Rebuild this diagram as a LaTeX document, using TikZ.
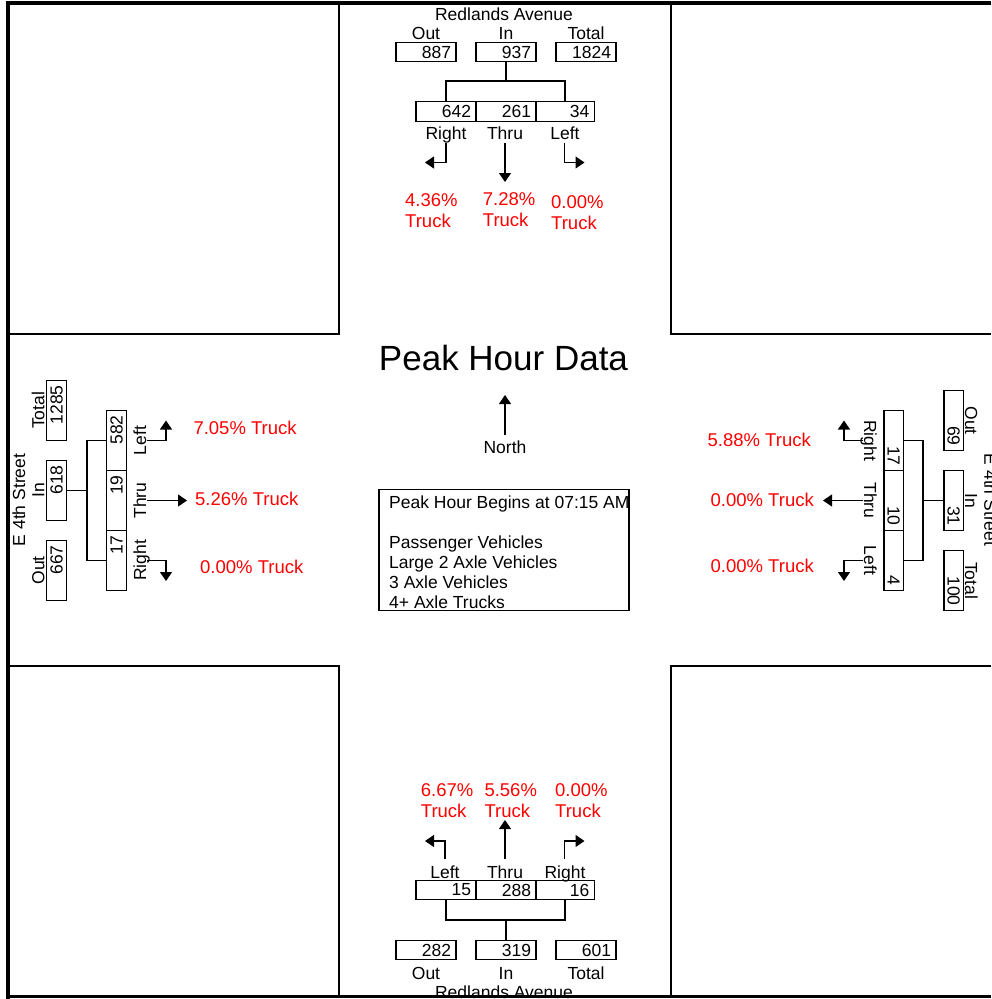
\documentclass[tikz,border=0pt]{standalone}
\usepackage{fontspec}
\setmainfont{Liberation Sans}
\usetikzlibrary{arrows.meta}
\definecolor{trk}{RGB}{255,0,0}
\tikzset{
  fs/.style={font=\fontsize{17.5}{21}\selectfont},
  lab/.style={fs, inner sep=0pt, anchor=base},
  trk/.style={font=\fontsize{18.5}{20.7}\selectfont, text=trk, inner sep=0pt, align=left, anchor=north west},
  trkw/.style={font=\fontsize{18.5}{20.7}\selectfont, text=trk, inner sep=0pt, anchor=base west},
  trke/.style={font=\fontsize{18.5}{20.7}\selectfont, text=trk, inner sep=0pt, anchor=base east},
  numbox/.style={draw, line width=1.1pt, fs, minimum width=60pt, minimum height=19.5pt, inner xsep=5pt, inner ysep=0pt, text width=50pt, align=right},
  numboxn/.style={numbox, minimum width=58.5pt, text width=48.5pt},
  conn/.style={line width=1.1pt},
  arr/.style={line width=1.1pt, -{Triangle[length=9pt,width=12pt]}},
}
\begin{document}
\begin{tikzpicture}[x=1pt,y=-1pt]
\useasboundingbox (0,0) rectangle (991,999);

% ---------- North approach ----------
\node[lab] (tName) at (504,20) {Redlands Avenue};
\node[lab] (tOutL) at (426,39.5) {Out};
\node[lab] (tInL) at (506,39.5) {In};
\node[lab] (tTotL) at (586,39.5) {Total};
\node[numbox] (tOut) at (426,52) {887};
\node[numbox] (tIn) at (506,52) {937};
\node[numbox] (tTot) at (586,52) {1824};
\coordinate (tBus) at (506,81);
\node[numbox] (tR) at (446,111.5) {642};
\node[numbox] (tT) at (506,111.5) {261};
\node[numboxn] (tL) at (565,111.5) {34};
\draw[conn] (tIn.south) -- (tBus);
\draw[conn] (tR.north) |- (tBus) -| (tL.north);
\node[lab] (tRl) at (446,139.5) {Right};
\node[lab] (tTl) at (505,139.5) {Thru};
\node[lab] (tLl) at (565,139.5) {Left};
\coordinate (tRa) at (446,142.5); \coordinate (tRe) at (425,162.5);
\coordinate (tTa) at (505,142.5); \coordinate (tTe) at (505,182);
\coordinate (tLa) at (564.5,142.5); \coordinate (tLe) at (584.5,162.5);
\draw[arr] (tRa) |- (tRe);
\draw[arr] (tTa) -- (tTe);
\draw[arr] (tLa) |- (tLe);
\node[trk] (tRp) at (405,193.3) {4.36\%\\Truck};
\node[trk] (tTp) at (482.7,192.3) {7.28\%\\Truck};
\node[trk] (tLp) at (551,195.3) {0.00\%\\Truck};

% ---------- South approach ----------
\node[trk] (bLp) at (420.7,783.3) {6.67\%\\Truck};
\node[trk] (bTp) at (484.3,783.3) {5.56\%\\Truck};
\node[trk] (bRp) at (555,783.3) {0.00\%\\Truck};
\coordinate (bLa) at (445,859); \coordinate (bLe) at (425,841);
\coordinate (bTa) at (505,859); \coordinate (bTe) at (505,820);
\coordinate (bRa) at (564.5,859); \coordinate (bRe) at (584.5,841);
\draw[arr] (bLa) |- (bLe);
\draw[arr] (bTa) -- (bTe);
\draw[arr] (bRa) |- (bRe);
\node[lab] (bLl) at (445,878) {Left};
\node[lab] (bTl) at (505,878) {Thru};
\node[lab] (bRl) at (565,878) {Right};
\node[numbox] (bL) at (446,890) {15};
\node[numbox] (bT) at (506,890) {288};
\node[numboxn] (bR) at (565,890) {16};
\coordinate (bBus) at (506,920);
\node[numbox] (bOut) at (426,950) {282};
\node[numbox] (bIn) at (506,950) {319};
\node[numbox] (bTot) at (586,950) {601};
\draw[conn] (bL.south) |- (bBus) -| (bR.south);
\draw[conn] (bBus) -- (bIn.north);
\node[lab] (bOutL) at (426,979) {Out};
\node[lab] (bInL) at (506,979) {In};
\node[lab] (bTotL) at (586,979) {Total};
\node[lab] (bName) at (504,998.6) {Redlands Avenue};

% ---------- West approach ----------
\node[lab, rotate=90] (lName) at (25,500) {E 4th Street};
\node[lab, rotate=90] (lTotL) at (44.3,410.5) {Total};
\node[lab, rotate=90] (lInL) at (44.3,490.5) {In};
\node[lab, rotate=90] (lOutL) at (44.3,570.5) {Out};
\node[numbox, rotate=90] (lTot) at (56.5,410.5) {1285};
\node[numbox, rotate=90] (lIn) at (56.5,490.5) {618};
\node[numbox, rotate=90] (lOut) at (56.5,570.5) {667};
\coordinate (lBus) at (87,490.5);
\node[numbox, rotate=90] (lL) at (116.5,440.5) {582};
\node[numbox, rotate=90] (lT) at (116.5,500.5) {19};
\node[numbox, rotate=90] (lR) at (116.5,560.5) {17};
\draw[conn] (lIn.south) -- (lBus);
\draw[conn] (lL.north) -| (lBus) |- (lR.north);
\node[lab, rotate=90] (lLl) at (146,440.5) {Left};
\node[lab, rotate=90] (lTl) at (146,500.5) {Thru};
\node[lab, rotate=90] (lRl) at (146,560.5) {Right};
\coordinate (lLa) at (147,440.5); \coordinate (lLe) at (166,420.5);
\coordinate (lTa) at (147,500.5); \coordinate (lTe) at (187,500.5);
\coordinate (lRa) at (147,560.5); \coordinate (lRe) at (166,581);
\draw[arr] (lLa) -| (lLe);
\draw[arr] (lTa) -- (lTe);
\draw[arr] (lRa) -| (lRe);
\node[trkw] (lLp) at (193.3,434) {7.05\% Truck};
\node[trkw] (lTp) at (195,505) {5.26\% Truck};
\node[trkw] (lRp) at (200,573.4) {0.00\% Truck};

% ---------- East approach ----------
\node[lab, rotate=-90] (rName) at (984.3,500) {E 4th Street};
\node[lab, rotate=-90] (rOutL) at (965,420.5) {Out};
\node[lab, rotate=-90] (rInL) at (965,500.5) {In};
\node[lab, rotate=-90] (rTotL) at (965,580.5) {Total};
\node[numbox, rotate=-90] (rOut) at (953.7,420.5) {69};
\node[numbox, rotate=-90] (rIn) at (953.7,500.5) {31};
\node[numbox, rotate=-90] (rTot) at (953.7,580.5) {100};
\coordinate (rBus) at (923,500.5);
\node[numbox, rotate=-90] (rR) at (893.7,440.5) {17};
\node[numbox, rotate=-90] (rT) at (893.7,500.5) {10};
\node[numbox, rotate=-90] (rL) at (893.7,560.5) {4};
\draw[conn] (rIn.south) -- (rBus);
\draw[conn] (rR.north) -| (rBus) |- (rL.north);
\node[lab, rotate=-90] (rRl) at (864,440.5) {Right};
\node[lab, rotate=-90] (rTl) at (864,500.5) {Thru};
\node[lab, rotate=-90] (rLl) at (864,560.5) {Left};
\coordinate (rRa) at (863,440.5); \coordinate (rRe) at (844,420.5);
\coordinate (rTa) at (863,500.5); \coordinate (rTe) at (823,500.5);
\coordinate (rLa) at (863,560.5); \coordinate (rLe) at (844,581);
\draw[arr] (rRa) -| (rRe);
\draw[arr] (rTa) -- (rTe);
\draw[arr] (rLa) -| (rLe);
\node[trke] (rRp) at (811,446) {5.88\% Truck};
\node[trke] (rTp) at (814,506) {0.00\% Truck};
\node[trke] (rLp) at (814,572.7) {0.00\% Truck};

% ---------- Centre ----------
\node[lab, font=\fontsize{35}{42}\selectfont] (title) at (503.5,370) {Peak Hour Data};
\coordinate (nA) at (505,435); \coordinate (nE) at (505,395);
\draw[arr] (nA) -- (nE);
\node[lab] (north) at (505,453) {North};
\node[draw, line width=1.1pt, minimum width=250pt, minimum height=121pt, inner sep=0pt] (info) at (504,550) {};
\node[inner sep=0pt, align=left, anchor=north west, font=\fontsize{17.5}{20}\selectfont] (infotext) at (389,495.7)
  {Peak Hour Begins at 07:15 AM\\[20pt]Passenger Vehicles\\Large 2 Axle Vehicles\\3 Axle Vehicles\\4+ Axle Trucks};

% ---------- Frame and quadrants ----------
\draw[conn] (339,3) -- (339,334) -- (8,334);
\draw[conn] (671,3) -- (671,334) -- (991,334);
\draw[conn] (8,666) -- (339,666) -- (339,997);
\draw[conn] (991,666) -- (671,666) -- (671,997);
\draw[line width=4pt] (991,3) -- (8,3) -- (8,999);
\draw[line width=3pt] (6,996.5) -- (991,996.5);
\end{tikzpicture}
\end{document}
